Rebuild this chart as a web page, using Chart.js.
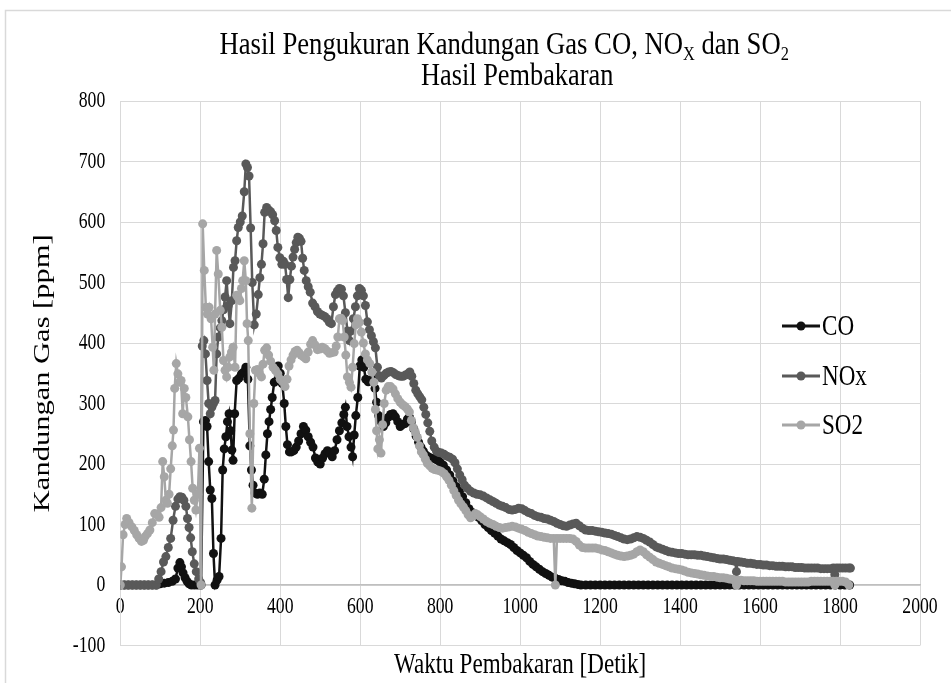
<!DOCTYPE html>
<html>
<head>
<meta charset="utf-8">
<script src="https://cdn.jsdelivr.net/npm/chart.js@4.4.1/dist/chart.umd.min.js"></script>
<style>
html,body{margin:0;padding:0;background:#fff;overflow:hidden}
#wrap{width:951px;height:683px;position:relative}
</style>
</head>
<body>
<div id="wrap"><canvas id="c" width="951" height="683"></canvas></div>
<script>
// ---- Data (time [s], concentration [ppm]) ----
const seriesNames = ["CO", "NOx", "SO2"];
const seriesColors = ["#111111", "#595959", "#a6a6a6"];

const coPoints = [[0,0],[10,0],[20,0],[30,0],[40,0],[50,0],[60,0],[70,0],[80,0],[90,0],[100,2],[110,3],[120,4],[130,6],[138,10],[144,28],[149,37],[153,30],[157,20],[162,12],[167,6],[172,2],[178,0],[186,0],[194,0],[202,0],[208,270],[213,272],[217,262],[221,204],[225,157],[229,143],[233,52],[237,0],[242,8],[247,14],[252,77],[256,190],[260,225],[264,245],[268,270],[272,283],[276,255],[279,223],[282,206],[286,283],[291,338],[297,342],[303,349],[309,352],[314,360],[319,340],[324,230],[328,190],[332,165],[337,152],[343,150],[349,152],[355,150],[360,175],[364,215],[368,250],[372,270],[376,290],[380,310],[385,335],[390,355],[395,362],[400,350],[405,333],[410,300],[414,262],[418,232],[423,220],[428,220],[434,222],[440,228],[446,238],[452,250],[458,262],[464,256],[470,245],[476,236],[482,228],[488,210],[494,203],[500,200],[506,210],[512,217],[518,222],[524,218],[530,212],[536,222],[542,240],[548,255],[554,268],[559,282],[563,294],[567,262],[572,245],[577,228],[581,212],[585,248],[589,280],[594,310],[599,362],[604,372],[609,360],[614,340],[620,336],[626,338],[632,343],[637,325],[641,302],[646,280],[652,270],[658,262],[664,268],[670,277],[676,282],[682,283],[688,278],[694,270],[700,262],[706,265],[712,267],[718,274],[723,278],[728,270],[734,258],[740,246],[746,236],[752,228],[758,221],[764,215],[770,212],[776,210],[782,209],[788,208],[794,206],[800,203],[808,198],[816,190],[824,182],[832,172],[840,163],[848,155],[856,146],[864,136],[872,126],[880,120],[888,116],[896,112],[904,106],[912,100],[920,95],[928,90],[936,86],[944,81],[952,76],[960,73],[968,70],[976,67],[984,62],[992,57],[1000,53],[1008,49],[1016,45],[1024,39],[1032,34],[1040,30],[1048,26],[1056,22],[1064,19],[1072,16],[1080,13],[1088,11],[1096,9],[1104,7],[1112,6],[1120,4],[1128,3],[1136,2],[1144,1],[1152,0],[1164,0],[1176,0],[1188,0],[1200,0],[1212,0],[1224,0],[1236,0],[1248,0],[1260,0],[1272,0],[1284,0],[1296,0],[1308,0],[1320,0],[1332,0],[1344,0],[1356,0],[1368,0],[1380,0],[1392,0],[1404,0],[1416,0],[1428,0],[1440,0],[1452,0],[1464,0],[1476,0],[1488,0],[1500,0],[1512,0],[1524,0],[1536,0],[1548,0],[1560,0],[1572,0],[1584,0],[1596,0],[1608,0],[1620,0],[1632,0],[1644,0],[1656,0],[1668,0],[1680,0],[1692,0],[1704,0],[1716,0],[1728,0],[1740,0],[1752,0],[1764,0],[1776,0],[1788,0],[1800,0],[1812,0],[1824,0]];

const noxPoints = [[0,0],[10,0],[20,0],[30,0],[40,0],[50,0],[60,0],[70,0],[80,0],[90,0],[96,10],[102,22],[108,38],[114,47],[120,62],[126,77],[132,107],[138,130],[144,142],[149,146],[154,145],[159,140],[164,130],[168,110],[172,95],[176,78],[180,55],[185,35],[190,22],[196,10],[201,4],[205,395],[209,404],[213,382],[217,338],[221,300],[225,283],[229,294],[233,300],[237,305],[241,382],[245,410],[250,425],[254,437],[258,455],[262,476],[266,503],[270,462],[274,432],[279,470],[283,525],[287,536],[291,569],[295,591],[300,600],[305,610],[310,650],[314,696],[318,690],[322,676],[326,590],[330,500],[335,430],[340,448],[345,480],[349,508],[353,530],[357,564],[361,616],[366,624],[371,620],[376,617],[381,612],[386,602],[390,586],[394,558],[399,541],[404,530],[408,535],[412,530],[416,505],[420,475],[424,505],[428,527],[432,542],[436,555],[440,566],[444,575],[448,573],[452,568],[456,540],[460,520],[465,503],[470,493],[475,484],[481,466],[487,460],[493,452],[499,448],[505,446],[511,444],[517,440],[523,434],[528,432],[533,460],[538,480],[543,486],[548,490],[553,489],[558,478],[563,450],[568,420],[573,404],[578,420],[583,440],[588,460],[593,478],[598,490],[603,487],[608,478],[613,462],[618,435],[623,422],[628,412],[633,402],[638,392],[643,360],[648,346],[653,342],[659,346],[665,350],[671,352],[677,353],[683,351],[689,348],[695,346],[701,345],[707,345],[713,347],[719,349],[724,352],[729,345],[734,333],[739,322],[744,316],[749,311],[754,306],[759,294],[764,282],[769,268],[774,254],[779,238],[785,228],[791,221],[797,219],[803,218],[810,216],[817,213],[824,211],[831,208],[837,202],[843,192],[849,182],[855,174],[861,165],[868,160],[876,155],[884,152],[892,150],[900,149],[908,147],[916,144],[924,141],[932,138],[940,135],[948,132],[956,130],[964,128],[972,125],[980,124],[988,125],[996,127],[1004,126],[1012,123],[1020,120],[1028,118],[1036,115],[1044,113],[1052,112],[1060,110],[1068,109],[1076,107],[1084,105],[1092,102],[1100,100],[1108,98],[1116,97],[1124,99],[1132,101],[1140,102],[1148,98],[1156,94],[1164,91],[1172,90],[1180,90],[1188,89],[1196,88],[1204,87],[1212,86],[1220,85],[1228,84],[1236,82],[1244,80],[1252,78],[1260,76],[1268,75],[1276,76],[1284,78],[1292,80],[1300,79],[1308,77],[1316,74],[1324,71],[1332,67],[1340,63],[1348,61],[1356,59],[1364,57],[1372,55],[1380,54],[1388,53],[1396,52],[1404,52],[1412,51],[1420,50],[1428,50],[1436,50],[1444,49],[1452,49],[1460,48],[1468,47],[1476,46],[1484,45],[1492,44],[1500,43],[1508,43],[1516,42],[1524,41],[1532,40],[1538,39],[1541,22],[1544,39],[1552,38],[1560,37],[1568,36],[1576,36],[1584,35],[1592,34],[1600,34],[1608,33],[1616,33],[1624,32],[1632,32],[1640,31],[1648,31],[1656,31],[1664,30],[1672,30],[1680,30],[1688,29],[1696,29],[1704,29],[1712,28],[1720,28],[1728,28],[1736,28],[1744,28],[1752,27],[1760,27],[1768,27],[1776,27],[1783,28],[1787,17],[1791,28],[1798,28],[1806,28],[1814,28],[1822,28],[1826,28]];

const so2Points = [[0,0],[3,30],[7,83],[12,100],[16,110],[22,103],[29,96],[35,90],[41,83],[47,77],[53,72],[58,74],[62,80],[68,85],[74,91],[80,103],[86,118],[92,117],[97,112],[102,128],[106,204],[110,179],[114,140],[118,135],[122,150],[126,192],[130,230],[133,256],[136,325],[140,366],[144,349],[148,335],[152,338],[156,283],[160,325],[164,310],[169,278],[173,240],[177,204],[181,160],[185,140],[189,124],[194,150],[198,226],[202,0],[206,597],[210,520],[214,459],[218,448],[222,459],[227,440],[231,393],[234,355],[237,448],[241,553],[245,514],[250,454],[254,426],[258,371],[262,355],[266,344],[270,360],[274,377],[278,385],[282,393],[287,360],[291,479],[295,475],[299,470],[303,490],[306,503],[310,536],[314,503],[317,432],[320,404],[324,250],[329,127],[334,300],[338,355],[343,356],[348,350],[353,344],[357,365],[361,388],[366,392],[371,380],[376,370],[382,360],[388,355],[394,349],[400,340],[406,336],[412,328],[417,340],[422,362],[427,372],[432,380],[437,386],[442,388],[447,384],[452,380],[458,377],[464,374],[470,385],[476,398],[481,404],[487,397],[493,389],[499,390],[505,393],[511,391],[517,387],[523,383],[529,384],[535,385],[540,395],[544,410],[548,440],[552,441],[556,437],[560,410],[564,380],[568,344],[573,335],[577,327],[581,360],[585,399],[589,430],[593,440],[598,434],[603,418],[608,400],[613,382],[618,372],[624,366],[629,352],[634,335],[638,290],[641,255],[644,225],[648,240],[652,218],[656,265],[660,300],[665,322],[670,328],[676,328],[682,324],[688,316],[694,308],[700,302],[706,298],[712,295],[718,291],[723,286],[728,272],[733,260],[738,252],[743,244],[748,230],[753,220],[758,215],[763,208],[768,201],[774,197],[780,193],[786,191],[792,190],[798,189],[804,187],[810,184],[816,179],[822,173],[828,165],[834,156],[840,148],[846,140],[852,134],[858,129],[864,123],[870,116],[876,111],[882,114],[888,118],[894,116],[900,113],[908,109],[916,105],[924,102],[932,100],[940,97],[948,95],[956,94],[964,95],[972,96],[980,97],[988,96],[996,94],[1004,92],[1012,90],[1020,87],[1028,85],[1036,83],[1044,81],[1052,80],[1060,79],[1068,78],[1076,77],[1084,77],[1088,0],[1092,77],[1100,77],[1108,77],[1116,77],[1124,77],[1132,76],[1140,72],[1148,66],[1156,62],[1164,61],[1172,61],[1180,61],[1188,61],[1196,60],[1204,58],[1212,57],[1220,55],[1228,53],[1236,51],[1244,49],[1252,48],[1260,47],[1268,48],[1276,49],[1284,51],[1292,55],[1300,58],[1308,55],[1316,50],[1324,46],[1332,42],[1340,38],[1348,36],[1356,34],[1364,32],[1372,30],[1380,28],[1388,27],[1396,26],[1404,25],[1412,23],[1420,21],[1428,20],[1436,19],[1444,18],[1452,17],[1460,16],[1468,15],[1476,14],[1484,14],[1492,13],[1500,12],[1508,12],[1516,11],[1524,10],[1532,9],[1538,8],[1541,0],[1544,8],[1552,8],[1560,7],[1568,7],[1576,7],[1584,7],[1592,6],[1600,6],[1608,6],[1616,6],[1624,6],[1632,6],[1640,6],[1648,6],[1656,6],[1664,5],[1672,5],[1680,5],[1688,5],[1696,5],[1704,5],[1712,5],[1720,5],[1728,6],[1736,6],[1744,6],[1752,6],[1760,6],[1768,6],[1776,6],[1783,6],[1787,0],[1791,6],[1798,6],[1806,6],[1814,5],[1822,0]];

// axis settings
const xMin = 0, xMax = 2000, xStep = 200;
const yMin = -100, yMax = 800, yStep = 100;
const xAxisTitle = "Waktu Pembakaran [Detik]";
const yAxisTitle = "Kandungan Gas [ppm]";
// title pieces: [text, isSubscript]
const titleLine1 = [["Hasil Pengukuran Kandungan Gas CO, NO", false], ["X", true], [" dan SO", false], ["2", true]];
const titleLine2 = [["Hasil Pembakaran", false]];

const FONT = "'Liberation Serif', 'Times New Roman', serif";
const GRID = "#d9d9d9";

// Narrow (condensed) text rendering: glyphs are drawn horizontally compressed
const TEXT_SX = 0.77;
const _origFillText = CanvasRenderingContext2D.prototype.fillText;
CanvasRenderingContext2D.prototype.fillText = function (text, x, y) {
  const sx = (this.__sx !== undefined) ? this.__sx : TEXT_SX;
  const m = this.getTransform();
  const rotated = Math.abs(m.b) > 1e-6 || Math.abs(m.c) > 1e-6;
  this.save();
  this.translate(x, y);
  if (rotated) this.scale(1, sx); else this.scale(sx, 1);
  _origFillText.call(this, text, 0, 0);
  this.restore();
};

const toXY = pts => pts.map(p => ({x: p[0], y: p[1]}));
const allPoints = [coPoints, noxPoints, so2Points];

const datasets = seriesNames.map((name, i) => ({
  label: name,
  data: toXY(allPoints[i]),
  borderColor: seriesColors[i],
  backgroundColor: seriesColors[i],
  pointBackgroundColor: seriesColors[i],
  pointBorderColor: seriesColors[i],
  pointBorderWidth: 0,
  pointRadius: 4.5,
  pointHoverRadius: 4.5,
  borderWidth: 2.5,
  showLine: true,
  tension: 0,
  order: 3 - i,
  xAxisID: 'x',
  yAxisID: 'y'
}));

const framePlugin = {
  id: 'frame',
  beforeDraw(chart) {
    const ctx = chart.ctx;
    ctx.save();
    ctx.fillStyle = '#ffffff';
    ctx.fillRect(0, 0, chart.width, chart.height);
    ctx.strokeStyle = GRID;
    ctx.lineWidth = 1.5;
    ctx.strokeRect(5.5, 10.5, 1100, 1100);
    ctx.restore();
  }
};

function drawRich(ctx, parts, cx, y, size, sx) {
  const subSize = Math.round(size * 0.62);
  let total = 0;
  const widths = parts.map(([t, sub]) => {
    ctx.font = (sub ? subSize : size) + "px " + FONT;
    const w = ctx.measureText(t).width * sx;
    total += w;
    return w;
  });
  let x = cx - total / 2;
  ctx.__sx = sx;
  parts.forEach(([t, sub], k) => {
    ctx.font = (sub ? subSize : size) + "px " + FONT;
    ctx.fillText(t, x, sub ? y + size * 0.2 : y);
    x += widths[k];
  });
  delete ctx.__sx;
}

const titlePlugin = {
  id: 'richTitle',
  afterDraw(chart) {
    const ctx = chart.ctx;
    const cx = (chart.chartArea.left + chart.chartArea.right) / 2;
    ctx.save();
    ctx.fillStyle = '#000';
    ctx.textBaseline = 'alphabetic';
    ctx.textAlign = 'left';
    drawRich(ctx, titleLine1, cx - 16, 54, 31, 0.86);
    drawRich(ctx, titleLine2, cx - 3, 85, 31, 0.85);
    ctx.restore();
  }
};

const legendPlugin = {
  id: 'sideLegend',
  afterDraw(chart) {
    const ctx = chart.ctx;
    ctx.save();
    const x0 = 782, x1 = 820, rowY = [326, 376, 425];
    seriesNames.forEach((name, i) => {
      const y = rowY[i];
      ctx.strokeStyle = seriesColors[i];
      ctx.lineWidth = 3;
      ctx.beginPath();
      ctx.moveTo(x0, y);
      ctx.lineTo(x1, y);
      ctx.stroke();
      ctx.fillStyle = seriesColors[i];
      ctx.beginPath();
      ctx.arc((x0 + x1) / 2, y, 4.5, 0, Math.PI * 2);
      ctx.fill();
      ctx.fillStyle = '#000';
      ctx.font = "30px " + FONT;
      ctx.textBaseline = 'middle';
      ctx.textAlign = 'left';
      ctx.fillText(name, x1 + 2, y + 1);
    });
    ctx.restore();
  }
};

new Chart(document.getElementById('c'), {
  type: 'scatter',
  data: { datasets },
  options: {
    responsive: false,
    animation: false,
    devicePixelRatio: 1,
    layout: { padding: { top: 101, right: 22, left: 0, bottom: 0 } },
    plugins: { legend: { display: false }, tooltip: { enabled: false }, title: { display: false } },
    scales: {
      x: {
        type: 'linear',
        position: { y: 0 },
        min: xMin, max: xMax,
        ticks: { stepSize: xStep, color: '#000', font: { family: FONT, size: 23 }, padding: 8, maxRotation: 0, autoSkip: false, callback: v => String(v) },
        grid: { color: GRID, lineWidth: 1, drawTicks: false },
        border: { display: true, color: '#bfbfbf', width: 1.5 },
        afterFit(scale) { scale.height = 0; }
      },
      x2: {
        type: 'linear',
        axis: 'x',
        position: 'bottom',
        min: xMin, max: xMax,
        ticks: { display: false },
        grid: { display: false, drawTicks: false },
        border: { display: false },
        title: { display: true, text: xAxisTitle, color: '#000', font: { family: FONT, size: 30 }, padding: { top: 0, bottom: 0 } },
        afterFit(scale) { scale.height = 37.5; }
      },
      y: {
        type: 'linear',
        position: 'left',
        min: yMin, max: yMax,
        ticks: { stepSize: yStep, color: '#000', font: { family: FONT, size: 23 }, padding: 15, callback: v => String(v) },
        grid: { color: GRID, lineWidth: 1, drawTicks: false },
        border: { display: true, color: GRID, width: 1 },
        title: { display: true, text: yAxisTitle, color: '#000', font: { family: FONT, size: 30.5 }, padding: { top: 25, bottom: 0 } },
        afterFit(scale) { scale.width = 120.3; }
      }
    }
  },
  plugins: [framePlugin, titlePlugin, legendPlugin]
});
</script>
</body>
</html>
